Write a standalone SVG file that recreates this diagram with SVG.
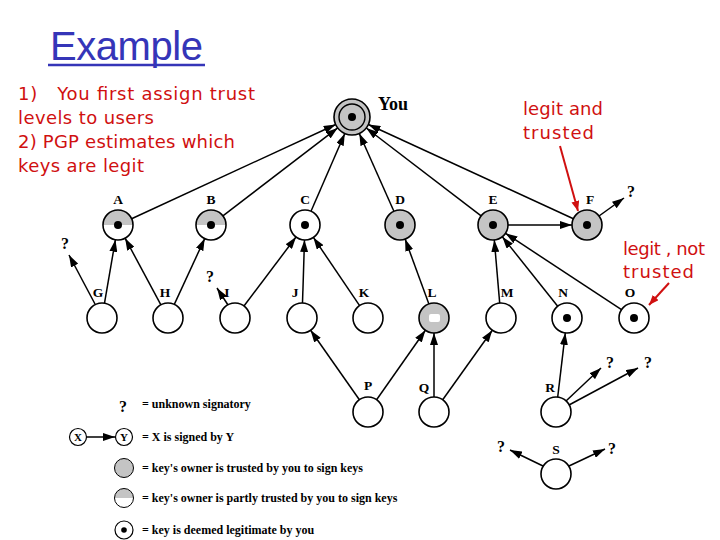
<svg xmlns="http://www.w3.org/2000/svg" width="720" height="540" viewBox="0 0 720 540">
<defs>
<style>
.nd{fill:#fff;stroke:#000;stroke-width:1.6}
.tr{fill:#c4c4c4;stroke:#000;stroke-width:1.6}
.dot{fill:#000}
.lb{font-family:"Liberation Serif",serif;font-weight:bold;font-size:13.5px;fill:#000;text-anchor:middle}
.q{font-family:"Liberation Serif",serif;font-weight:bold;font-size:16px;fill:#000;text-anchor:middle}
.lg{font-family:"Liberation Serif",serif;font-weight:bold;font-size:12px;fill:#000}
.red{font-family:"DejaVu Sans",sans-serif;font-size:18px;fill:#d01010;white-space:pre}
.e{stroke:#000;stroke-width:1.5;fill:none;marker-end:url(#ah)}
.re{stroke:#d01010;stroke-width:2;fill:none;marker-end:url(#rh)}
</style>
<marker id="ah" viewBox="0 0 12 8" refX="12" refY="4" markerWidth="12" markerHeight="8" markerUnits="userSpaceOnUse" orient="auto"><path d="M0,0 L12,4 L0,8 z" fill="#000"/></marker>
<marker id="rh" viewBox="0 0 10 8" refX="10" refY="4" markerWidth="10" markerHeight="8" markerUnits="userSpaceOnUse" orient="auto"><path d="M0,0 L10,4 L0,8 z" fill="#d01010"/></marker>
</defs>
<rect width="720" height="540" fill="#fff"/>

<g id="title">
<text x="50" y="60" font-family="Liberation Sans,sans-serif" font-size="40" fill="#3535b8" textLength="153">Example</text>
<line x1="48" y1="65" x2="205" y2="65" stroke="#3535b8" stroke-width="2.5"/>
</g>
<g id="notes">
<text class="red" x="18" y="100" textLength="237">1)   You first assign trust</text>
<text class="red" x="18" y="124" textLength="136">levels to users</text>
<text class="red" x="18" y="148" textLength="217">2) PGP estimates which</text>
<text class="red" x="18" y="172" textLength="126">keys are legit</text>
<text class="red" x="523" y="115" textLength="80">legit and</text>
<text class="red" x="523" y="139" textLength="71">trusted</text>
<text class="red" x="623" y="255" textLength="82">legit , not</text>
<text class="red" x="623" y="278" textLength="71">trusted</text>
</g>

<g id="connectors">
<line class="e" x1="131.6" y1="218.7" x2="335.7" y2="124.5"/>
<line class="e" x1="222.9" y1="215.9" x2="337.7" y2="127.9"/>
<line class="e" x1="311" y1="211.2" x2="344.8" y2="133.5"/>
<line class="e" x1="393.9" y1="211.3" x2="359.3" y2="133.5"/>
<line class="e" x1="481.1" y1="215.9" x2="366.3" y2="128"/>
<line class="e" x1="573.4" y1="218.7" x2="368.4" y2="124.5"/>
<line class="e" x1="508" y1="225" x2="572" y2="225"/>
<line class="e" x1="599" y1="216" x2="624" y2="198"/>
<line class="e" x1="95" y1="304" x2="69" y2="255"/>
<line class="e" x1="104.5" y1="303.2" x2="115.4" y2="239.8"/>
<line class="e" x1="160.9" y1="304.8" x2="125.1" y2="238.2"/>
<line class="e" x1="174.3" y1="304.4" x2="204.7" y2="238.6"/>
<line class="e" x1="228" y1="305" x2="217" y2="288"/>
<line class="e" x1="244" y1="306" x2="296" y2="237"/>
<line class="e" x1="302.5" y1="303" x2="304.5" y2="240"/>
<line class="e" x1="359.6" y1="305.6" x2="313.4" y2="237.4"/>
<line class="e" x1="428.9" y1="303.9" x2="405.1" y2="239.1"/>
<line class="e" x1="499.7" y1="303.1" x2="494.3" y2="240"/>
<line class="e" x1="557.7" y1="306.3" x2="502.3" y2="236.7"/>
<line class="e" x1="621.5" y1="309.7" x2="505.5" y2="233.3"/>
<line class="e" x1="359.4" y1="399.7" x2="310.6" y2="330.3"/>
<line class="e" x1="376.6" y1="399.7" x2="425.4" y2="330.3"/>
<line class="e" x1="434" y1="397" x2="434" y2="333"/>
<line class="e" x1="442.7" y1="399.8" x2="492.3" y2="330.2"/>
<line class="e" x1="557.7" y1="397.1" x2="565.3" y2="332.9"/>
<line class="e" x1="566" y1="401" x2="601" y2="368"/>
<line class="e" x1="569" y1="405" x2="638" y2="368"/>
<line class="e" x1="543" y1="466" x2="510" y2="450"/>
<line class="e" x1="569" y1="466" x2="605" y2="449"/>
<line class="e" x1="87" y1="437" x2="115" y2="437"/>
<line class="re" x1="560" y1="146" x2="578" y2="211"/>
<line class="re" x1="669" y1="283" x2="649" y2="305"/>
</g>

<g id="You">
<circle class="tr" cx="352" cy="117" r="18"/>
<circle cx="352" cy="117" r="13" fill="none" stroke="#000" stroke-width="1.4"/>
<circle class="dot" cx="352" cy="117" r="4"/>
<text x="378" y="110" font-family="Liberation Serif,serif" font-weight="bold" font-size="18">You</text>
</g>
<g id="A">
<circle cx="118" cy="225" r="15" fill="#fff"/>
<path d="M103,225 A15,15 0 0 1 133,225 z" fill="#c4c4c4"/>
<circle cx="118" cy="225" r="15" fill="none" stroke="#000" stroke-width="1.6"/>
<circle class="dot" cx="118" cy="225" r="4"/>
<text class="lb" x="118" y="204">A</text>
</g>
<g id="B">
<circle cx="211" cy="225" r="15" fill="#fff"/>
<path d="M196,225 A15,15 0 0 1 226,225 z" fill="#c4c4c4"/>
<circle cx="211" cy="225" r="15" fill="none" stroke="#000" stroke-width="1.6"/>
<circle class="dot" cx="211" cy="225" r="4"/>
<text class="lb" x="211" y="204">B</text>
</g>
<g id="C">
<circle class="nd" cx="305" cy="225" r="15"/>
<circle class="dot" cx="305" cy="225" r="4"/>
<text class="lb" x="305" y="204">C</text>
</g>
<g id="D">
<circle class="tr" cx="400" cy="225" r="15"/>
<circle class="dot" cx="400" cy="225" r="4"/>
<text class="lb" x="400" y="204">D</text>
</g>
<g id="E">
<circle class="tr" cx="493" cy="225" r="15"/>
<circle class="dot" cx="493" cy="225" r="4"/>
<text class="lb" x="493" y="204">E</text>
</g>
<g id="F">
<circle class="tr" cx="587" cy="225" r="15"/>
<circle class="dot" cx="587" cy="225" r="4"/>
<text class="lb" x="590" y="204">F</text>
<text class="q" x="631" y="197">?</text>
</g>
<g id="G">
<circle class="nd" cx="102" cy="318" r="15"/>
<text class="lb" x="98" y="297">G</text>
<text class="q" x="65" y="249">?</text>
</g>
<g id="H">
<circle class="nd" cx="168" cy="318" r="15"/>
<text class="lb" x="165" y="297">H</text>
</g>
<g id="I">
<circle class="nd" cx="235" cy="318" r="15"/>
<text class="lb" x="227" y="297">I</text>
<text class="q" x="210" y="282">?</text>
</g>
<g id="J">
<circle class="nd" cx="302" cy="318" r="15"/>
<text class="lb" x="295" y="297">J</text>
</g>
<g id="K">
<circle class="nd" cx="368" cy="318" r="15"/>
<text class="lb" x="364" y="297">K</text>
</g>
<g id="L">
<circle class="tr" cx="434" cy="318" r="15"/>
<rect x="429" y="314" width="11" height="8" rx="2" fill="#fff"/>
<text class="lb" x="432" y="297">L</text>
</g>
<g id="M">
<circle class="nd" cx="501" cy="318" r="15"/>
<text class="lb" x="507" y="297">M</text>
</g>
<g id="N">
<circle class="nd" cx="567" cy="318" r="15"/>
<circle class="dot" cx="567" cy="318" r="4"/>
<text class="lb" x="563" y="297">N</text>
</g>
<g id="O">
<circle class="nd" cx="634" cy="318" r="15"/>
<circle class="dot" cx="634" cy="318" r="4"/>
<text class="lb" x="630" y="297">O</text>
</g>
<g id="P">
<circle class="nd" cx="368" cy="412" r="15"/>
<text class="lb" x="368" y="390">P</text>
</g>
<g id="Q">
<circle class="nd" cx="434" cy="412" r="15"/>
<text class="lb" x="424" y="392">Q</text>
</g>
<g id="R">
<circle class="nd" cx="556" cy="412" r="15"/>
<text class="lb" x="550" y="392">R</text>
<text class="q" x="610" y="368">?</text>
<text class="q" x="648" y="368">?</text>
</g>
<g id="S">
<circle class="nd" cx="556" cy="474" r="15"/>
<text class="lb" x="556" y="454">S</text>
<text class="q" x="501" y="452">?</text>
<text class="q" x="612" y="454">?</text>
</g>

<g id="legend">
<text class="q" x="123" y="412">?</text>
<text class="lg" x="142" y="408">= unknown signatory</text>
<circle cx="78" cy="437" r="8.5" fill="#fff" stroke="#000" stroke-width="1.2"/>
<text x="78" y="441" font-family="Liberation Serif,serif" font-weight="bold" font-size="11" text-anchor="middle">X</text>
<circle cx="124" cy="437" r="8.5" fill="#fff" stroke="#000" stroke-width="1.2"/>
<text x="124" y="441" font-family="Liberation Serif,serif" font-weight="bold" font-size="11" text-anchor="middle">Y</text>
<text class="lg" x="142" y="441">= X is signed by Y</text>
<circle cx="124" cy="468" r="9.5" fill="#c4c4c4" stroke="#000" stroke-width="1"/>
<text class="lg" x="142" y="472">= key's owner is trusted by you to sign keys</text>
<circle cx="124" cy="498" r="9.5" fill="#fff"/>
<path d="M114.5,498 A9.5,9.5 0 0 1 133.5,498 z" fill="#c4c4c4"/>
<circle cx="124" cy="498" r="9.5" fill="none" stroke="#000" stroke-width="1"/>
<text class="lg" x="142" y="502">= key's owner is partly trusted by you to sign keys</text>
<circle cx="124" cy="530" r="9" fill="#fff" stroke="#000" stroke-width="1.2"/>
<circle class="dot" cx="124" cy="530" r="2.8"/>
<text class="lg" x="142" y="534">= key is deemed legitimate by you</text>
</g>
</svg>
